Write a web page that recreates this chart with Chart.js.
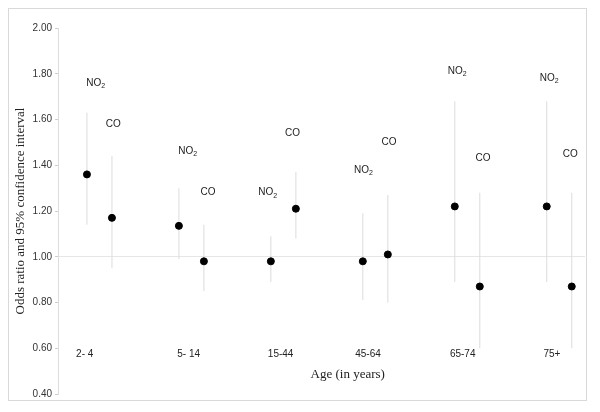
<!DOCTYPE html>
<html>
<head>
<meta charset="utf-8">
<script src="https://cdn.jsdelivr.net/npm/chart.js@4"></script>
<style>
  html, body { margin: 0; padding: 0; background: #fff; }
  #wrap { width: 600px; height: 412px; }
</style>
</head>
<body>
<div id="wrap"><canvas id="chart" width="600" height="412"></canvas></div>
<script>
// age groups and where their tick labels sit on the x scale
const ageGroups = ['2- 4', '5- 14', '15-44', '45-64', '65-74', '75+'];
const tickAt = [-0.16, 0.97, 1.97, 2.92, 3.95, 4.92];

// odds ratios with 95% CI, one value per age group
const no2OR = [1.36, 1.135, 0.98, 0.98, 1.22, 1.22];
const no2Low = [1.14, 0.99, 0.89, 0.81, 0.89, 0.89];
const no2High = [1.63, 1.30, 1.09, 1.19, 1.68, 1.68];

const coOR = [1.17, 0.98, 1.21, 1.01, 0.87, 0.87];
const coLow = [0.95, 0.85, 1.08, 0.80, 0.60, 0.60];
const coHigh = [1.44, 1.14, 1.37, 1.27, 1.28, 1.28];

// where the NO2 / CO captions sit (x in group units, y in odds-ratio units)
const no2TagX = [-0.04, 0.96, 1.83, 2.87, 3.89, 4.89];
const no2TagY = [1.76, 1.46, 1.28, 1.38, 1.81, 1.78];
const coTagX = [0.15, 1.18, 2.10, 3.15, 4.17, 5.12];
const coTagY = [1.58, 1.28, 1.54, 1.50, 1.43, 1.45];

const shift = 0.136; // NO2 left of group centre, CO right of it

const sans = "'Liberation Sans', Arial, sans-serif";
const serif = "'Liberation Serif', 'Times New Roman', serif";

const ciNo2 = ageGroups.map((g, i) => ({ x: i - shift, y: [no2Low[i], no2High[i]] }));
const ciCo = ageGroups.map((g, i) => ({ x: i + shift, y: [coLow[i], coHigh[i]] }));
const ptNo2 = ageGroups.map((g, i) => ({ x: i - shift, y: no2OR[i] }));
const ptCo = ageGroups.map((g, i) => ({ x: i + shift, y: coOR[i] }));

const frame = {
  id: 'frame',
  beforeDraw(chart) {
    const ctx = chart.ctx;
    ctx.save();
    ctx.strokeStyle = '#d9d9d9';
    ctx.lineWidth = 1;
    ctx.strokeRect(8.5, 8.5, 578, 392);
    ctx.restore();
  },
};

const tags = {
  id: 'tags',
  afterDatasetsDraw(chart) {
    const ctx = chart.ctx;
    const xs = chart.scales.x;
    const ys = chart.scales.y;
    ctx.save();
    ctx.fillStyle = '#222';
    ctx.textBaseline = 'middle';
    const put = (txt, sub, xv, yv) => {
      ctx.font = '10px ' + sans;
      const w1 = ctx.measureText(txt).width;
      ctx.font = '7px ' + sans;
      const w2 = sub ? ctx.measureText(sub).width : 0;
      const px = xs.getPixelForValue(xv) - (w1 + w2) / 2;
      const py = ys.getPixelForValue(yv);
      ctx.font = '10px ' + sans;
      ctx.textAlign = 'left';
      ctx.fillText(txt, px, py);
      if (sub) {
        ctx.font = '7px ' + sans;
        ctx.fillText(sub, px + w1, py + 3);
      }
    };
    ageGroups.forEach((g, i) => {
      put('NO', '2', no2TagX[i], no2TagY[i]);
      put('CO', '', coTagX[i], coTagY[i]);
    });

    // x axis title sits right of centre in the original
    ctx.font = '13px ' + serif;
    ctx.textAlign = 'center';
    ctx.fillText('Age (in years)', xs.getPixelForValue(2.7), ys.getPixelForValue(0.6) + 26);
    ctx.restore();
  },
};

new Chart(document.getElementById('chart'), {
  type: 'scatter',
  data: {
    datasets: [
      { type: 'bar', data: ciNo2, backgroundColor: '#dcdcdc', barThickness: 1, inflateAmount: 0, grouped: false, order: 2 },
      { type: 'bar', data: ciCo, backgroundColor: '#dcdcdc', barThickness: 1, inflateAmount: 0, grouped: false, order: 2 },
      { data: ptNo2, backgroundColor: '#000', borderColor: '#000', pointRadius: 3.5, order: 1 },
      { data: ptCo, backgroundColor: '#000', borderColor: '#000', pointRadius: 3.5, order: 1 },
    ],
  },
  options: {
    responsive: false,
    animation: false,
    layout: { padding: { top: 28, right: 15, bottom: 18, left: 13 } },
    plugins: { legend: { display: false }, tooltip: { enabled: false } },
    scales: {
      x: {
        type: 'linear',
        position: { y: 0.6 },
        offset: false,
        min: -0.45,
        max: 5.28,
        afterBuildTicks: (scale) => {
          scale.ticks = tickAt.map((v) => ({ value: v }));
        },
        grid: { display: false, drawTicks: false, offset: false },
        border: { display: false },
        ticks: {
          autoSkip: false,
          maxRotation: 0,
          padding: 0,
          color: '#222',
          font: { family: sans, size: 10 },
          callback: (v, i) => ageGroups[i],
        },
      },
      y: {
        min: 0.4,
        max: 2.0,
        ticks: {
          stepSize: 0.2,
          padding: 3,
          color: '#333',
          font: { family: sans, size: 10 },
          callback: (v) => v.toFixed(2),
        },
        grid: {
          color: (c) => (c.tick && Math.abs(c.tick.value - 1) < 1e-6 ? '#e6e6e6' : 'rgba(0,0,0,0)'),
          tickColor: '#cccccc',
          tickLength: 3,
        },
        border: { display: true, color: '#dddddd' },
        title: {
          display: true,
          text: 'Odds ratio and 95% confidence interval',
          color: '#222',
          font: { family: serif, size: 13 },
          padding: { top: 0, bottom: 1 },
        },
      },
    },
  },
  plugins: [frame, tags],
});
</script>
</body>
</html>
